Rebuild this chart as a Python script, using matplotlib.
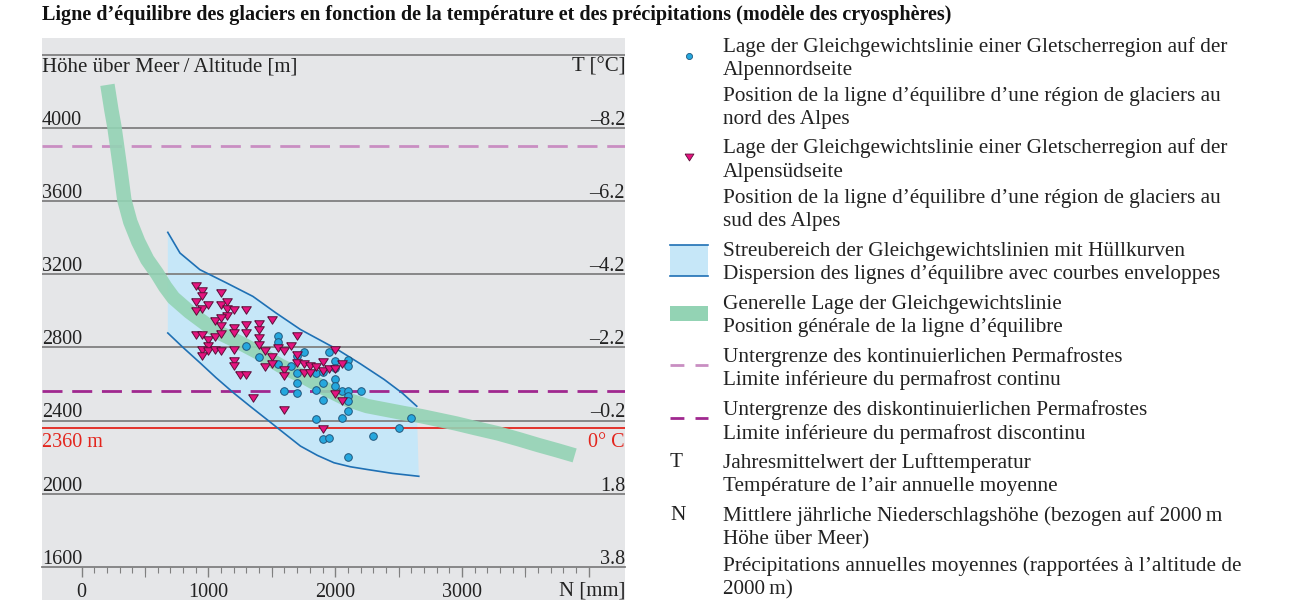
import matplotlib.pyplot as plt
from matplotlib.patches import Rectangle

plt.rcParams['font.family'] = ['Liberation Serif', 'DejaVu Serif']

# altitude grid (m) with the mean annual temperature on the right
alt_levels = [1600, 2000, 2400, 2800, 3200, 3600, 4000]
alt_labels = ['1600', '2000', '2400', '2800', '3200', '3600', '4000']
temp_labels = ['3.8', '1.8', '–0.2', '–2.2', '–4.2', '–6.2', '–8.2']
top_line = 4400
zero_deg_alt = 2360
perma_cont_alt = 3900
perma_discont_alt = 2560

# precipitation axis
n_major = [0, 1000, 2000, 3000, 4000]
n_major_labels = ['0', '1000', '2000', '3000', '']
n_mid = [500, 1500, 2500, 3500]
n_minor = [100, 200, 300, 400, 600, 700, 800, 900, 1100, 1200, 1300, 1400,
           1600, 1700, 1800, 1900, 2100, 2200, 2300, 2400, 2600, 2700, 2800,
           2900, 3100, 3200, 3300, 3400, 3600, 3700, 3800, 3900]

# general position of the equilibrium line (green band)
band_n = [204, 235, 259, 282, 306, 337, 384, 447, 518, 596, 659, 724, 850,
          986, 1110, 1250, 1400, 1568, 1750, 1920, 2096, 2250, 2400, 2550,
          2677, 2800, 2950, 3100, 3286, 3450, 3600, 3750, 3888]
band_alt = [4235, 4098, 4005, 3891, 3771, 3607, 3487, 3378, 3280, 3203, 3132,
            3071, 2995, 2925, 2872, 2825, 2770, 2700, 2640, 2575, 2515, 2480,
            2460, 2440, 2425, 2407, 2385, 2360, 2330, 2298, 2267, 2238, 2210]

# envelope curves of the scatter range
env_up_n = [680, 776, 933, 1142, 1351, 1530, 1726, 2017, 2200, 2386, 2530, 2643]
env_up_alt = [3429, 3316, 3225, 3153, 3079, 2990, 2898, 2789, 2710, 2625, 2550, 2479]
env_lo_n = [680, 800, 934, 1060, 1198, 1330, 1462, 1600, 1726, 1860, 1990,
            2120, 2254, 2450, 2659]
env_lo_alt = [2879, 2800, 2716, 2635, 2552, 2478, 2406, 2330, 2261, 2210, 2170,
              2148, 2133, 2112, 2096]

# glacier regions north of the Alps (circles)
north_n = [1300, 1400, 1550, 1550, 1550, 1650, 1700, 1700, 1700, 1750, 1850,
           1900, 1900, 1950, 2000, 2000, 2000, 2000, 2100, 2100, 1600, 1700,
           1850, 1900, 2050, 2100, 2100, 2100, 2200, 2100, 2050, 1850, 2600,
           2500, 2300, 1900, 1950, 2100]
north_alt = [2810, 2750, 2862, 2830, 2707, 2698, 2752, 2658, 2607, 2774, 2661,
             2665, 2607, 2776, 2725, 2689, 2625, 2592, 2734, 2698, 2561, 2549,
             2570, 2512, 2561, 2561, 2534, 2507, 2563, 2452, 2416, 2407, 2414,
             2359, 2316, 2301, 2307, 2199]

# glacier regions south of the Alps (triangles)
south_n = [900, 950, 950, 900, 950, 1000, 900, 1100, 1100, 1150, 1150, 1200,
           1300, 1150, 1050, 1100, 1100, 1200, 1200, 1300, 1400, 1400, 1500,
           900, 950, 1000, 1050, 1100, 1000, 950, 1000, 1050, 1100, 950, 1200,
           1300, 1400, 1400, 1450, 1500, 1550, 1600, 1650, 1700, 1200, 1200,
           1250, 1300, 1450, 1500, 1600, 1600, 1700, 1700, 1750, 1800, 1850,
           1900, 1900, 1950, 2000, 2000, 2050, 2000, 2050, 1600, 1900, 1350,
           1750, 1800]
south_alt = [3134, 3107, 3080, 3047, 3010, 3034, 2998, 3098, 3034, 3047, 3010,
             3003, 3007, 2974, 2943, 2961, 2916, 2907, 2879, 2925, 2930, 2898,
             2949, 2870, 2870, 2843, 2858, 2876, 2807, 2785, 2779, 2788, 2779,
             2756, 2788, 2879, 2852, 2816, 2779, 2748, 2798, 2779, 2807, 2865,
             2725, 2701, 2647, 2647, 2694, 2707, 2679, 2643, 2761, 2716, 2712,
             2701, 2694, 2719, 2670, 2683, 2785, 2683, 2707, 2543, 2507, 2458,
             2352, 2525, 2658, 2661]

title = ('Ligne d’équilibre des glaciers en fonction de la température '
         'et des précipitations (modèle des cryosphères)')

legend_lines = [
    'Lage der Gleichgewichtslinie einer Gletscherregion auf der',
    'Alpennordseite',
    'Position de la ligne d’équilibre d’une région de glaciers au',
    'nord des Alpes',
    'Lage der Gleichgewichtslinie einer Gletscherregion auf der',
    'Alpensüdseite',
    'Position de la ligne d’équilibre d’une région de glaciers au',
    'sud des Alpes',
    'Streubereich der Gleichgewichtslinien mit Hüllkurven',
    'Dispersion des lignes d’équilibre avec courbes enveloppes',
    'Generelle Lage der Gleichgewichtslinie',
    'Position générale de la ligne d’équilibre',
    'Untergrenze des kontinuierlichen Permafrostes',
    'Limite inférieure du permafrost continu',
    'Untergrenze des diskontinuierlichen Permafrostes',
    'Limite inférieure du permafrost discontinu',
    'Jahresmittelwert der Lufttemperatur',
    'Température de l’air annuelle moyenne',
    'Mittlere jährliche Niederschlagshöhe (bezogen auf 2000\u2009m',
    'Höhe über Meer)',
    'Précipitations annuelles moyennes (rapportées à l’altitude de',
    '2000\u2009m)',
]
legend_y = [46, 69, 95, 118, 147.5, 170.5, 196.5, 220, 250, 273, 303, 326,
            356, 379, 409, 432.5, 462, 485.5, 515, 538, 565, 588]

c_bg = '#e5e6e8'
c_grid = '#808080'
c_txt = '#222222'
c_red = '#e3251d'
c_fill = '#c6e7f8'
c_env = '#1f70b4'
c_band = '#93d3b4'
c_north = '#25a7de'
c_south = '#e5137f'
c_cont = '#c98ec2'
c_discont = '#a0288f'

# downward triangle a bit wider than tall, like the printed symbol
tri_down = [(-1, 0.78), (1, 0.78), (0, -0.78), (-1, 0.78)]

fig = plt.figure(figsize=(12.96, 6), dpi=100)
ax = fig.add_axes([42 / 1296, 0, 583 / 1296, 562 / 600])
ax.set_facecolor(c_bg)
x0, x1 = -312, 4285
ax.set_xlim(x0, x1)
ax.set_ylim(1420, 4491)

for s in ['top', 'left', 'right']:
    ax.spines[s].set_visible(False)
ax.spines['bottom'].set_position(('data', 1600))
ax.spines['bottom'].set_color(c_grid)
ax.spines['bottom'].set_linewidth(1.3)
ax.set_yticks([])
ax.set_xticks(n_major, n_major_labels, fontsize=14.5)
ax.set_xticks(n_mid + n_minor, minor=True)
ax.tick_params(axis='x', which='major', length=7.2, width=1, color=c_grid,
               pad=4, labelcolor=c_txt)
ax.tick_params(axis='x', which='minor', length=4.3, width=0.8, color=c_grid)

# medium ticks at the 500s are longer than the other minor ones
ax.vlines(n_mid, 1600 - 7.2 / 72 * 100 * 5.46, 1600, color=c_grid, lw=0.8,
          clip_on=False, zorder=2)

# envelope range
poly_n = env_up_n + env_lo_n[::-1]
poly_alt = env_up_alt + env_lo_alt[::-1]
ax.fill(poly_n, poly_alt, color=c_fill, lw=0, zorder=1)
ax.plot(env_up_n, env_up_alt, color=c_env, lw=1.2, zorder=3)
ax.plot(env_lo_n, env_lo_alt, color=c_env, lw=1.2, zorder=3)

# altitude lines and labels
ax.hlines(alt_levels[1:] + [top_line], x0, x1, color=c_grid, lw=1.3, zorder=2)
for a, la, lt in zip(alt_levels, alt_labels, temp_labels):
    ax.text(x0, a + 18, la, ha='left', va='baseline', fontsize=14.5, color=c_txt)
    ax.text(x1, a + 18, lt, ha='right', va='baseline', fontsize=14.5, color=c_txt)
ax.text(x0, 4308, 'Höhe über Meer\u2009/\u2009Altitude [m]', ha='left',
        va='baseline', fontsize=15, color=c_txt)
ax.text(x1, 4308, 'T [°C]', ha='right', va='baseline', fontsize=15, color=c_txt)
ax.text(x1, 1442, 'N [mm]', ha='right', va='baseline', fontsize=15, color=c_txt)

ax.axhline(zero_deg_alt, color=c_red, lw=1.3, zorder=2)
ax.text(x0, 2256, '2360 m', ha='left', va='baseline', fontsize=14.5, color=c_red)
ax.text(x1, 2256, '0° C', ha='right', va='baseline', fontsize=14.5, color=c_red)

ax.axhline(perma_cont_alt, color=c_cont, lw=2, dashes=(7.2, 3.5), zorder=2)
ax.axhline(perma_discont_alt, color=c_discont, lw=2, dashes=(7.2, 3.5), zorder=2)

# general position of the equilibrium line
ax.plot(band_n, band_alt, color=c_band, lw=10.4, alpha=0.9,
        solid_capstyle='butt', solid_joinstyle='round', zorder=4)

ax.scatter(north_n, north_alt, s=30, marker='o', color=c_north,
           edgecolor='#21577c', linewidth=0.7, zorder=5)
ax.scatter(south_n, south_alt, s=48, marker=tri_down, color=c_south,
           edgecolor='#5c1039', linewidth=0.7, zorder=6)

# legend panel, laid out in pixel units
lax = fig.add_axes([0, 0, 1, 1])
lax.set_xlim(0, 1296)
lax.set_ylim(600, 0)
lax.axis('off')

lax.text(42, 20, title, ha='left', va='baseline', fontsize=14.5,
         fontweight='bold', color='#111111')

for t, y in zip(legend_lines, legend_y):
    lax.text(723, y + 6, t, ha='left', va='baseline', fontsize=15.3, color=c_txt)

lax.plot([689], [56], marker='o', ms=4.4, color=c_north, mec='#21577c', mew=0.6)
lax.plot([689], [157], marker=tri_down, ms=6.4, color=c_south, mec='#5c1039', mew=0.6)
lax.add_patch(Rectangle((670, 245), 38, 31, color=c_fill, lw=0))
lax.plot([670, 708], [245, 245], color=c_env, lw=1.2)
lax.plot([670, 708], [276, 276], color=c_env, lw=1.2)
lax.add_patch(Rectangle((670, 306), 38, 15, color=c_band, lw=0))
lax.plot([670, 708], [365, 365], color=c_cont, lw=2, dashes=(5, 4))
lax.plot([670, 708], [418, 418], color=c_discont, lw=2, dashes=(5, 4))
lax.text(670, 467, 'T', ha='left', va='baseline', fontsize=15.3, color=c_txt)
lax.text(670, 520, 'N', ha='left', va='baseline', fontsize=15.3, color=c_txt)

fig.savefig('out.png', dpi=100)
